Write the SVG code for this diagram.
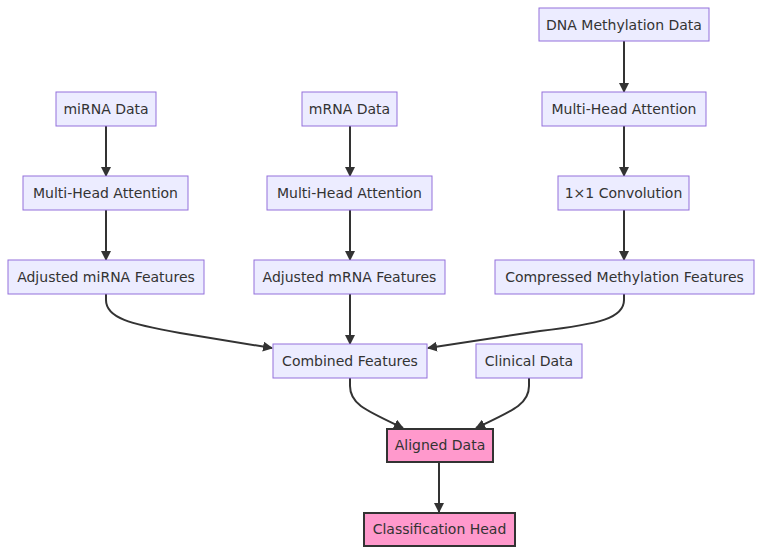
<svg xmlns="http://www.w3.org/2000/svg" width="760" height="554" viewBox="0 0 760 554">
<style>
.n rect{fill:#ECECFF;stroke:#9370DB;stroke-width:1}
.p rect{fill:#FF99CC;stroke:#333333;stroke-width:2}
text{font-family:"DejaVu Sans",Verdana,sans-serif;font-size:14px;fill:#333333;text-anchor:middle}
.e path{fill:none;stroke:#333333;stroke-width:2}
</style>
<defs>
<marker id="ah" viewBox="0 0 10 10" refX="9" refY="5" markerWidth="10" markerHeight="10" markerUnits="userSpaceOnUse" orient="auto">
<path d="M0,0 L10,5 L0,10 z" fill="#333333"/>
</marker>
</defs>
<rect width="760" height="554" fill="#ffffff"/>
<g class="e">
<path d="M624,41 V92" marker-end="url(#ah)"/>
<path d="M624,126 V176" marker-end="url(#ah)"/>
<path d="M624,210 V260" marker-end="url(#ah)"/>
<path d="M106,126 V176" marker-end="url(#ah)"/>
<path d="M106,210 V260" marker-end="url(#ah)"/>
<path d="M350,126 V176" marker-end="url(#ah)"/>
<path d="M350,210 V260" marker-end="url(#ah)"/>
<path d="M350,294 V344" marker-end="url(#ah)"/>
<path d="M106,294 V300 C106,318 130,324 180,333 L272,348" marker-end="url(#ah)"/>
<path d="M624,294 V300 C624,318 600,324 540,331 L428,348" marker-end="url(#ah)"/>
<path d="M350,378 V386 C350,404 365,410 403,428" marker-end="url(#ah)"/>
<path d="M529,378 V386 C529,404 514,410 476,428" marker-end="url(#ah)"/>
<path d="M439,462 V512" marker-end="url(#ah)"/>
</g>
<g id="dna" class="n"><rect x="539" y="8" width="170" height="33"/><text x="624" y="30">DNA Methylation Data</text></g>
<g id="mirna" class="n"><rect x="56" y="92" width="100" height="34"/><text x="106" y="114">miRNA Data</text></g>
<g id="mrna" class="n"><rect x="302" y="92" width="95" height="34"/><text x="349.5" y="114">mRNA Data</text></g>
<g id="mha3" class="n"><rect x="542" y="92" width="164" height="34"/><text x="624" y="114">Multi-Head Attention</text></g>
<g id="mha1" class="n"><rect x="23" y="176" width="165" height="34"/><text x="105.5" y="198">Multi-Head Attention</text></g>
<g id="mha2" class="n"><rect x="267" y="176" width="165" height="34"/><text x="349.5" y="198">Multi-Head Attention</text></g>
<g id="conv" class="n"><rect x="558" y="176" width="131" height="34"/><text x="623.5" y="198">1×1 Convolution</text></g>
<g id="adjmirna" class="n"><rect x="8" y="260" width="196" height="34"/><text x="106" y="282">Adjusted miRNA Features</text></g>
<g id="adjmrna" class="n"><rect x="254" y="260" width="191" height="34"/><text x="349.5" y="282">Adjusted mRNA Features</text></g>
<g id="comp" class="n"><rect x="495" y="260" width="259" height="34"/><text x="624.5" y="282">Compressed Methylation Features</text></g>
<g id="combined" class="n"><rect x="273" y="344" width="154" height="34"/><text x="350" y="366">Combined Features</text></g>
<g id="clinical" class="n"><rect x="476" y="344" width="106" height="34"/><text x="529" y="366">Clinical Data</text></g>
<g id="aligned" class="p"><rect x="387" y="429" width="106" height="33"/><text x="440" y="450">Aligned Data</text></g>
<g id="cls" class="p"><rect x="364" y="513" width="151" height="33"/><text x="439.5" y="534">Classification Head</text></g>
</svg>
